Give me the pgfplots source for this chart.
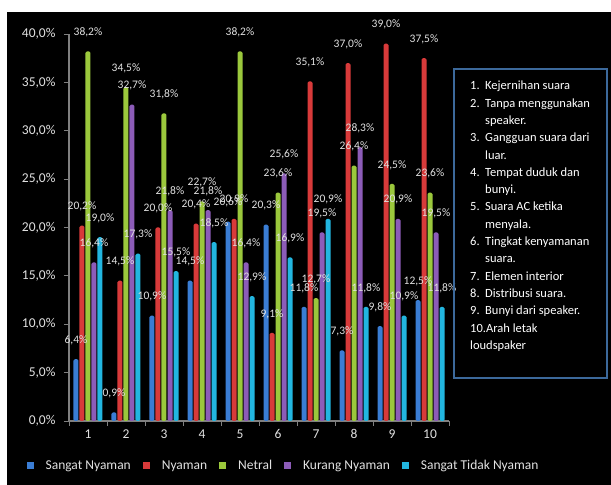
\documentclass[border=0pt]{standalone}
\usepackage{pgfplots}
\pgfplotsset{compat=1.18}
\usepackage{fontspec}
\setmainfont{Carlito}
\definecolor{cSN}{RGB}{58,125,212}
\definecolor{cN}{RGB}{216,58,58}
\definecolor{cNe}{RGB}{155,200,60}
\definecolor{cKN}{RGB}{140,92,184}
\definecolor{cSTN}{RGB}{34,182,224}
\definecolor{txt}{RGB}{225,225,225}
\definecolor{axgray}{RGB}{128,128,128}
\definecolor{boxblue}{RGB}{60,105,155}
\begin{document}
\begin{tikzpicture}
\useasboundingbox (0,0) rectangle (611pt,485pt);
\fill[white] (0,0) rectangle (611pt,485pt);
\fill[black] (7pt,0) rectangle (611pt,473pt);
\begin{axis}[
  at={(69pt,64pt)}, anchor=south west,
  scale only axis, width=380pt, height=387pt,
  ymin=0, ymax=40, xmin=0.5, xmax=10.5,
  ybar=1pt, bar width=5pt,
  clip=false,
  axis x line*=bottom, axis y line*=left,
  axis line style={axgray, line width=1.2pt},
  tick align=outside, major tick length=5pt,
  tick style={axgray, line width=0.8pt},
  ytick={0,5,...,40},
  /pgf/number format/assume math mode=true,
  yticklabel={\pgfmathprintnumber[fixed,fixed zerofill,precision=1,use comma]{\tick}\%},
  yticklabel style={xshift=-5pt},
  xtick={0.5,1.5,...,10.5},
  x tick label as interval,
  xticklabels={1,2,3,4,5,6,7,8,9,10},
  tick label style={color=txt, font=\fontsize{13.5}{15}\selectfont},
  nodes near coords={\pgfmathprintnumber[fixed,fixed zerofill,precision=1,use comma]{\pgfplotspointmeta}\%},
  every node near coord/.append style={anchor=center, yshift=19pt, color=txt, font=\fontsize{11.5}{13}\selectfont, inner sep=0pt},
  legend columns=5,
  legend style={at={(-0.12,-0.116)}, anchor=west, draw=none, fill=none, text=txt,
    font=\fontsize{13.5}{15}\selectfont, column sep=10pt},
  legend image code/.code={\fill[#1, sharp corners] (0pt,-3.5pt) rectangle (7pt,3.5pt);},
]
\addplot[fill=cSN, draw=none, rounded corners=1.5pt] coordinates {(1,6.4) (2,0.9) (3,10.9) (4,14.5) (5,20.6) (6,20.3) (7,11.8) (8,7.3) (9,9.8) (10,12.5)};
\addlegendentry{Sangat Nyaman}
\addplot[fill=cN, draw=none, rounded corners=1.5pt] coordinates {(1,20.2) (2,14.5) (3,20.0) (4,20.4) (5,20.9) (6,9.1) (7,35.1) (8,37.0) (9,39.0) (10,37.5)};
\addlegendentry{Nyaman}
\addplot[fill=cNe, draw=none, rounded corners=1.5pt] coordinates {(1,38.2) (2,34.5) (3,31.8) (4,22.7) (5,38.2) (6,23.6) (7,12.7) (8,26.4) (9,24.5) (10,23.6)};
\addlegendentry{Netral}
\addplot[fill=cKN, draw=none, rounded corners=1.5pt] coordinates {(1,16.4) (2,32.7) (3,21.8) (4,21.8) (5,16.4) (6,25.6) (7,19.5) (8,28.3) (9,20.9) (10,19.5)};
\addlegendentry{Kurang Nyaman}
\addplot[fill=cSTN, draw=none, rounded corners=1.5pt] coordinates {(1,19.0) (2,17.3) (3,15.5) (4,18.5) (5,12.9) (6,16.9) (7,20.9) (8,11.8) (9,10.9) (10,11.8)};
\addlegendentry{Sangat Tidak Nyaman}
\end{axis}
\draw[boxblue, line width=2.5pt] (454pt,107pt) rectangle (607pt,416pt);
\node[anchor=north west, align=left, text=white, font=\fontsize{12.5}{17.3}\selectfont, inner sep=0pt] at (470pt,404pt) {%
\makebox[15pt][l]{1.}Kejernihan suara\\
\makebox[15pt][l]{2.}Tanpa menggunakan\\
\hspace*{15pt}speaker.\\
\makebox[15pt][l]{3.}Gangguan suara dari\\
\hspace*{15pt}luar.\\
\makebox[15pt][l]{4.}Tempat duduk dan\\
\hspace*{15pt}bunyi.\\
\makebox[15pt][l]{5.}Suara AC ketika\\
\hspace*{15pt}menyala.\\
\makebox[15pt][l]{6.}Tingkat kenyamanan\\
\hspace*{15pt}suara.\\
\makebox[15pt][l]{7.}Elemen interior\\
\makebox[15pt][l]{8.}Distribusi suara.\\
\makebox[15pt][l]{9.}Bunyi dari speaker.\\
10.Arah letak\\
loudspaker};
\end{tikzpicture}
\end{document}
